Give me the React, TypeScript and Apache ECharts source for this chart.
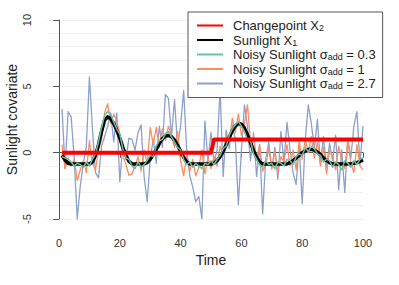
import React, { useEffect, useRef } from "react";
import * as echarts from "echarts";

const TIME: number[] = Array.from({ length: 100 }, (_, i) => i + 1);

const CHANGEPOINT: number[] = [
  0, 0, 0, 0, 0, 0, 0, 0, 0, 0,
  0, 0, 0, 0, 0, 0, 0, 0, 0, 0,
  0, 0, 0, 0, 0, 0, 0, 0, 0, 0,
  0, 0, 0, 0, 0, 0, 0, 0, 0, 0,
  0, 0, 0, 0, 0, 0, 0, 0, 0, 0,
  1, 1, 1, 1, 1, 1, 1, 1, 1, 1,
  1, 1, 1, 1, 1, 1, 1, 1, 1, 1,
  1, 1, 1, 1, 1, 1, 1, 1, 1, 1,
  1, 1, 1, 1, 1, 1, 1, 1, 1, 1,
  1, 1, 1, 1, 1, 1, 1, 1, 1, 1,
];

const SUNLIGHT: number[] = [
  -0.2, -0.55, -0.8, -0.85, -0.85, -0.85, -0.85, -0.85, -0.85, -0.85,
  -0.7, -0.2, 0.6, 1.6, 2.45, 2.7, 2.55, 2.2, 1.7, 1.1,
  0.4, -0.2, -0.65, -0.85, -0.85, -0.85, -0.85, -0.85, -0.75, -0.5,
  -0.15, 0.25, 0.7, 1.05, 1.25, 1.3, 1.2, 0.95, 0.55, 0.1,
  -0.35, -0.7, -0.85, -0.85, -0.85, -0.85, -0.85, -0.85, -0.85, -0.85,
  -0.8, -0.6, -0.3, 0.1, 0.6, 1.15, 1.65, 2.0, 2.2, 2.15,
  1.85, 1.35, 0.75, 0.15, -0.35, -0.7, -0.85, -0.85, -0.85, -0.85,
  -0.85, -0.85, -0.85, -0.85, -0.85, -0.75, -0.6, -0.4, -0.2, 0.0,
  0.15, 0.23, 0.25, 0.2, 0.05, -0.15, -0.4, -0.6, -0.75, -0.85,
  -0.85, -0.85, -0.85, -0.85, -0.85, -0.85, -0.8, -0.75, -0.65, -0.55,
];

const NOISY_03: number[] = [
  -0.3, -0.4, -0.5, -0.7, -1.0, -0.8, -0.9, -1.1, -0.7, -1.0,
  -0.5, -0.1, 0.8, 1.9, 2.8, 3.1, 2.9, 2.3, 1.8, 1.4,
  0.3, -0.4, -0.5, -1.0, -1.2, -0.7, -1.1, -0.9, -0.6, -0.2,
  -0.3, 0.5, 0.9, 1.0, 1.4, 1.6, 1.2, 0.8, 0.4, 0.2,
  -0.5, -0.9, -0.7, -1.1, -0.8, -1.0, -1.2, -0.8, -0.9, -0.6,
  -0.9, -0.5, -0.2, 0.3, 0.5, 1.3, 1.8, 2.1, 2.35, 2.0,
  1.6, 1.0, 0.9, -0.1, -0.5, -0.9, -1.1, -0.6, -0.9, -0.8,
  -1.2, -0.7, -0.8, -1.0, -0.5, -0.6, -0.9, -0.3, -0.1, -0.2,
  0.35, 0.1, 0.45, 0.3, -0.1, -0.2, -0.7, -0.5, -0.6, -1.1,
  -0.7, -0.9, -1.3, -0.6, -0.8, -1.1, -0.6, -0.9, -0.5, -0.4,
];

const NOISY_1: number[] = [
  0.6, -1.2, -0.4, -1.0, -0.5, -2.1, -1.3, -0.6, -1.5, 0.9,
  -0.8, -1.3, 0.2, 1.0, 3.0, 3.7, 2.2, 2.9, 2.4, 1.4,
  -0.2, -0.9, -1.7, -1.6, -1.0, -0.3, -1.4, 0.2, -0.8, 1.9,
  0.6, 1.9, 0.4, 1.8, 0.9, 2.0, 1.3, 0.4, 1.6, -0.6,
  -1.75, -0.2, -1.4, -0.5, -1.75, -1.1, 0.2, -1.6, -0.4, -1.2,
  -0.3, -1.0, 0.5, -0.2, 1.3, 0.7, 2.6, 1.5, 2.9, 1.3,
  2.2, 3.6, 0.8, 1.2, -0.5, 0.6, -1.4, -0.9, 0.3, -1.2,
  0.1, -1.5, -0.3, -0.7, 0.6, -1.0, 0.2, -1.3, 0.9, -0.5,
  1.0, 0.0, 1.2, -0.4, 0.8, -1.0, 0.4, -1.6, 0.2, -0.3,
  -1.3, 0.5, -0.6, -1.2, 0.9, -0.8, -1.5, 0.6, -1.0, -1.3,
];

const NOISY_27: number[] = [
  3.3, -1.2, 3.1, 2.7, -0.4, -5.0, -2.5, -0.8, 0.5, 5.7,
  1.8, -1.5, -1.9, 0.5, 1.2, 2.0, 3.0, 0.8, 3.0, -2.2,
  0.6, -0.5, 1.1, 1.0, 0.2, 1.5, 2.1, -1.8, -3.7, -0.5,
  1.0, -0.8, 2.0, 0.4, 4.4, 4.1, 1.2, 4.0, 0.5, 2.0,
  4.7, 0.2, -1.7, -2.6, -3.7, -3.3, -5.0, 2.4, -0.7, 1.5,
  -0.8, 0.2, 4.8, -1.8, 1.7, 0.3, 2.1, 1.0, -3.9, 0.2,
  3.6, 2.0, -0.6, 1.5, -1.8, 0.6, -4.6, -0.5, 0.8, -1.2,
  0.4, -2.0, 1.6, -0.7, 2.3, 0.2, -1.5, -2.4, 0.6, -3.85,
  0.9, 3.6, 2.2, 0.3, 2.5, -0.8, 1.2, -1.1, 0.7, -0.6,
  1.3, -2.8, 0.2, -3.0, 1.1, -0.4, 2.0, 3.1, -0.9, 2.0,
];

const Y_TICKS_MIN = -5;
const Y_TICKS_MAX = 10;
const X_TICKS_MIN = 0;
const X_TICKS_MAX = 100;

const NAME_CP = "Changepoint X2";
const NAME_SUN = "Sunlight X1";
const NAME_N03 = "Noisy Sunlight 0.3";
const NAME_N1 = "Noisy Sunlight 1";
const NAME_N27 = "Noisy Sunlight 2.7";

const LEGEND_LABELS: Record<string, string> = {
  [NAME_CP]: "{m|Changepoint X}{s|2}",
  [NAME_SUN]: "{m|Sunlight X}{s|1}",
  [NAME_N03]: "{m|Noisy Sunlight σ}{s|add}{m| = 0.3}",
  [NAME_N1]: "{m|Noisy Sunlight σ}{s|add}{m| = 1}",
  [NAME_N27]: "{m|Noisy Sunlight σ}{s|add}{m| = 2.7}",
};

const FONT = "'Liberation Sans', Arial, Helvetica, sans-serif";

const pairs = (vals: number[]) => TIME.map((t, i) => [t, vals[i]]);

export default function App() {
  const ref = useRef<HTMLDivElement>(null);
  useEffect(() => {
    if (!ref.current) return;
    const chart = echarts.init(ref.current, null, { renderer: "svg" });
    const lineSeries = (name: string, vals: number[], color: string, width: number, z: number) => ({
      type: "line",
      name,
      xAxisIndex: 0,
      yAxisIndex: 0,
      data: pairs(vals),
      symbol: "none",
      showSymbol: false,
      z,
      lineStyle: { color, width, join: "round", cap: "butt" },
      itemStyle: { color, opacity: 0 },
      emphasis: { disabled: true },
    });
    chart.setOption({
      animation: false,
      backgroundColor: "#ffffff",
      textStyle: { fontFamily: FONT },
      grid: [
        { left: 59, top: 20, width: 304, height: 199, containLabel: false, outerBoundsMode: "none" },
        { left: 47, top: 20, width: 316, height: 199, containLabel: false, outerBoundsMode: "none" },
      ],
      xAxis: [
        {
          type: "value",
          gridIndex: 0,
          min: X_TICKS_MIN,
          max: X_TICKS_MAX,
          interval: 20,
          offset: 8,
          name: "Time",
          nameLocation: "middle",
          nameGap: 26,
          nameMoveOverlap: false,
          nameTextStyle: { fontSize: 14, color: "#222", fontFamily: FONT },
          axisLine: { show: true, lineStyle: { color: "#555", width: 1 } },
          axisTick: { show: true, length: 5, lineStyle: { color: "#555" } },
          axisLabel: { fontSize: 11, color: "#333", margin: 10, fontFamily: FONT },
          splitLine: { show: false },
        },
        { type: "value", gridIndex: 1, min: 0, max: 1, show: false },
      ],
      yAxis: [
        {
          type: "value",
          gridIndex: 0,
          min: Y_TICKS_MIN,
          max: Y_TICKS_MAX,
          interval: 5,
          offset: 12,
          name: "Sunlight covariate",
          nameLocation: "middle",
          nameGap: 28,
          nameMoveOverlap: false,
          nameRotate: 90,
          nameTextStyle: { fontSize: 14, color: "#222", fontFamily: FONT },
          axisLine: { show: true, lineStyle: { color: "#555", width: 1 } },
          axisTick: { show: true, length: 6, lineStyle: { color: "#555" } },
          axisLabel: { fontSize: 11, color: "#333", margin: 15, rotate: 90, fontFamily: FONT },
          splitLine: { show: false },
        },
        {
          type: "value",
          gridIndex: 1,
          min: Y_TICKS_MIN,
          max: Y_TICKS_MAX,
          interval: 1,
          axisLine: { show: false },
          axisTick: { show: false },
          axisLabel: { show: false },
          splitLine: { show: true, lineStyle: { color: "#f2f2f2", width: 1 } },
        },
      ],
      legend: {
        orient: "vertical",
        left: 188,
        top: 12,
        z: 20,
        padding: [7, 7, 7, 8],
        itemWidth: 26,
        itemHeight: 14,
        itemGap: 1,
        backgroundColor: "#ffffff",
        borderColor: "#555",
        borderWidth: 1,
        borderRadius: 0,
        selectedMode: false,
        itemStyle: { opacity: 0 },
        data: [NAME_CP, NAME_SUN, NAME_N03, NAME_N1, NAME_N27],
        formatter: (name: string) => LEGEND_LABELS[name] || name,
        textStyle: {
          fontFamily: FONT,
          fontSize: 13,
          color: "#222",
          padding: [0, 0, 0, 5],
          rich: {
            m: { fontSize: 13, lineHeight: 14, color: "#222", fontFamily: FONT },
            s: { fontSize: 9, lineHeight: 8, verticalAlign: "bottom", color: "#222", fontFamily: FONT },
          },
        },
      },
      series: [
        lineSeries(NAME_N27, NOISY_27, "#8DA0CB", 1.3, 2),
        lineSeries(NAME_N1, NOISY_1, "#FC8D62", 1.3, 3),
        lineSeries(NAME_SUN, SUNLIGHT, "#000000", 3.5, 4),
        lineSeries(NAME_N03, NOISY_03, "#66C2A5", 1.5, 5),
        lineSeries(NAME_CP, CHANGEPOINT, "#FF0000", 4, 6),
      ],
    });
    return () => chart.dispose();
  }, []);
  return (
    <div
      ref={ref}
      style={{ position: "absolute", left: 0, top: 0, width: 399, height: 285 }}
    />
  );
}
